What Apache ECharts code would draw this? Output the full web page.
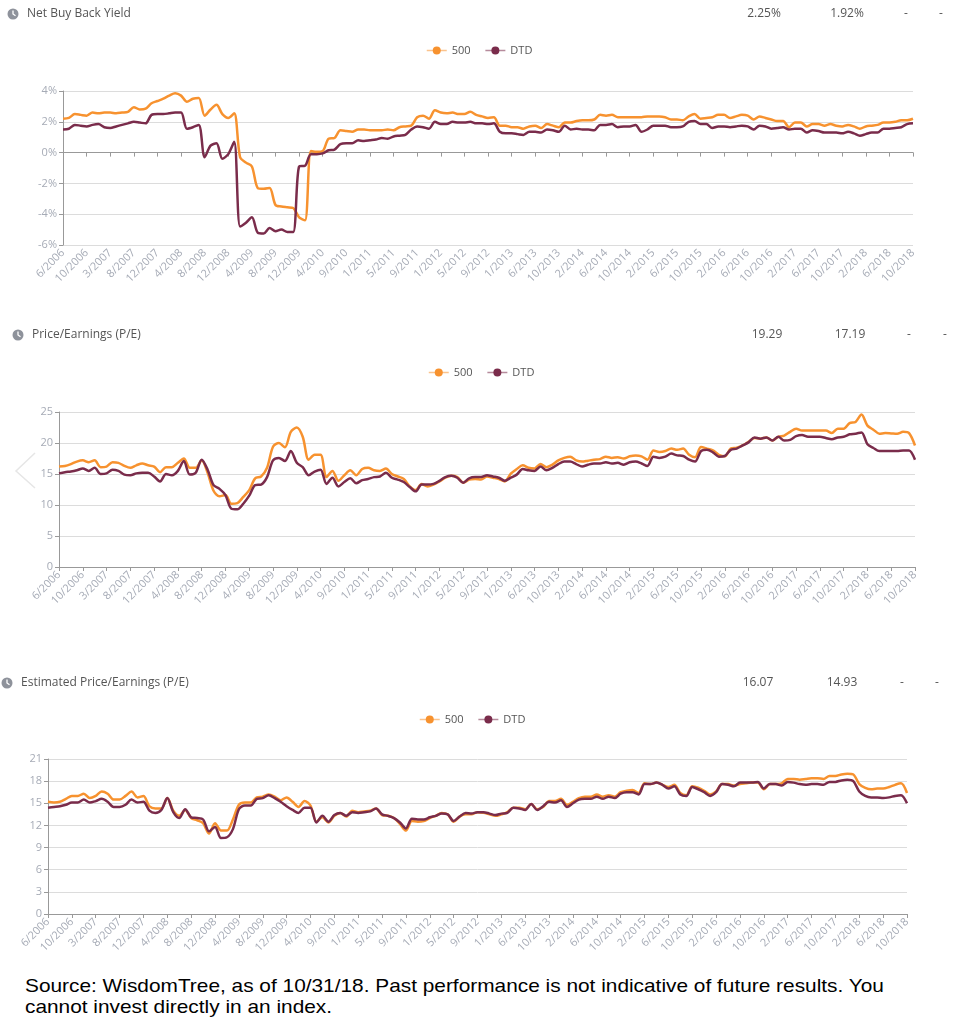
<!DOCTYPE html>
<html>
<head>
<meta charset="utf-8">
<title>Net Buy Back Yield / P/E</title>
<script src="https://cdn.jsdelivr.net/npm/echarts@6.0.0/dist/echarts.min.js"></script>
<style>
  html, body { margin: 0; padding: 0; background: #fff; }
  #main { position: absolute; left: 0; top: 0; width: 955px; height: 960px; }
  #source {
    position: absolute; left: 25px; top: 975px; width: 860px; white-space: nowrap;
    font-family: Arial, 'Liberation Sans', sans-serif; font-size: 19px; line-height: 21px; color: #000;
    transform: scaleX(1.097); transform-origin: 0 0;
  }
</style>
</head>
<body>
<div id="main"></div>
<div id="source">Source: WisdomTree, as of 10/31/18. Past performance is not indicative of future results. You<br>cannot invest directly in an index.</div>
<script>
// x axis tick labels (one per tick)
var tickLabels = ['6/2006','10/2006','3/2007','8/2007','12/2007','4/2008','8/2008','12/2008','4/2009','8/2009',
  '12/2009','4/2010','9/2010','1/2011','5/2011','9/2011','1/2012','5/2012','9/2012','1/2013',
  '6/2013','10/2013','2/2014','6/2014','10/2014','2/2015','6/2015','10/2015','2/2016','6/2016',
  '10/2016','2/2017','6/2017','10/2017','2/2018','6/2018','10/2018'];

// 4 readings between two ticks
var STEP = 4;

// Net Buy Back Yield (%)
var buyback500 = [
  2.2,2.25,2.5,2.45, 2.4,2.6,2.55,2.6, 2.6,2.55,2.6,2.65, 2.95,2.8,2.85,3.2, 3.35,3.5,3.7,3.85,
  3.7,3.3,3.5,3.55, 2.4,2.8,3.1,2.5, 2.25,2.55,-0.3,-0.65, -0.9,-2.3,-2.35,-2.3, -3.4,-3.5,-3.55,-3.6,
  -4.2,-4.4,0.1,0.05, 0.1,0.9,0.95,1.45, 1.4,1.35,1.5,1.5, 1.45,1.45,1.45,1.5, 1.45,1.65,1.7,1.75,
  2.3,2.4,2.2,2.75, 2.6,2.55,2.6,2.5, 2.5,2.65,2.45,2.35, 2.25,2.3,1.75,1.75, 1.65,1.65,1.55,1.7,
  1.75,1.6,1.85,1.75, 1.65,1.95,1.95,2.05, 2.1,2.1,2.15,2.45, 2.4,2.45,2.3,2.3, 2.3,2.3,2.3,2.35,
  2.35,2.35,2.3,2.15, 2.15,2.1,2.35,2.5, 2.2,2.25,2.3,2.45, 2.45,2.25,2.35,2.45, 2.4,2.15,2.35,2.25,
  2.15,2.05,2.05,1.65, 1.95,1.95,1.7,1.85, 1.85,1.75,1.85,1.75, 1.7,1.8,1.7,1.55, 1.7,1.75,1.8,1.95,
  1.95,2.0,2.1,2.1, 2.2
];
var buybackDTD = [
  1.5,1.55,1.8,1.75, 1.7,1.8,1.85,1.65, 1.6,1.7,1.8,1.9, 2.0,1.95,1.9,2.45, 2.5,2.5,2.55,2.6,
  2.6,1.55,1.65,1.8, -0.3,0.45,0.6,-0.4, -0.1,0.7,-4.8,-4.55, -4.2,-5.2,-5.25,-4.9, -5.1,-5.0,-5.15,-5.15,
  -0.9,-0.85,-0.1,-0.1, -0.05,0.15,0.2,0.55, 0.6,0.6,0.8,0.75, 0.8,0.85,0.95,0.9, 1.05,1.1,1.15,1.5,
  1.7,1.65,1.55,2.0, 1.85,1.85,2.0,1.95, 1.95,2.0,1.9,1.9, 1.85,1.9,1.35,1.25, 1.25,1.2,1.15,1.35,
  1.35,1.3,1.5,1.45, 1.35,1.75,1.5,1.55, 1.5,1.5,1.45,1.8, 1.8,1.85,1.65,1.7, 1.7,1.8,1.35,1.5,
  1.75,1.75,1.75,1.65, 1.65,1.7,2.0,2.05, 1.85,1.85,1.6,1.7, 1.7,1.65,1.7,1.75, 1.7,1.5,1.75,1.7,
  1.55,1.6,1.65,1.5, 1.55,1.55,1.3,1.45, 1.4,1.3,1.3,1.3, 1.25,1.35,1.25,1.1, 1.2,1.3,1.3,1.55,
  1.55,1.6,1.65,1.85, 1.9
];

// Price/Earnings
var pe500 = [
  16.2,16.3,16.6,17.0, 17.2,16.9,17.2,16.1, 16.2,16.9,16.8,16.3, 16.0,16.4,16.7,16.4, 16.2,15.3,16.1,16.1,
  16.8,17.5,16.0,16.0, 17.2,15.2,12.3,11.4, 11.6,10.2,10.3,11.3, 12.4,14.3,14.6,16.0, 19.4,20.0,19.3,21.8,
  22.5,21.0,17.3,18.1, 18.1,14.5,15.5,13.9, 14.8,15.6,14.8,15.8, 16.0,15.6,15.5,15.9, 15.0,14.6,14.2,13.0,
  12.4,13.4,13.0,13.3, 13.8,14.4,14.7,14.5, 13.6,14.1,14.2,14.1, 14.6,14.4,14.2,13.8, 15.05,15.8,16.4,16.0,
  15.9,16.6,16.1,16.5, 17.2,17.6,17.8,17.2, 17.0,17.15,17.3,17.4, 17.8,17.6,17.7,17.5, 17.85,18.0,17.85,17.3,
  18.8,18.55,18.7,19.1, 18.9,19.1,18.1,17.7, 19.35,19.1,18.8,18.1, 17.85,19.1,19.25,19.6, 20.2,20.8,20.7,20.9,
  20.4,21.0,21.2,21.8, 22.3,22.0,22.0,22.0, 22.0,22.0,21.6,22.3, 22.3,23.2,23.4,24.6, 22.8,22.15,21.5,21.6,
  21.55,21.5,21.8,21.6, 19.6
];
var peDTD = [
  15.1,15.3,15.4,15.6, 15.9,15.5,16.0,15.0, 15.1,15.7,15.5,14.9, 14.8,15.1,15.2,15.2, 14.6,13.8,15.0,14.8,
  15.5,17.1,14.9,15.2, 17.3,15.7,13.2,12.6, 11.6,9.4,9.3,10.2, 11.5,13.2,13.3,14.5, 17.2,17.6,17.1,18.7,
  16.8,16.1,14.8,15.4, 15.7,13.4,14.4,13.0, 13.7,14.3,13.5,14.0, 14.2,14.5,14.6,15.2, 14.4,14.1,13.7,12.9,
  12.2,13.3,13.3,13.4, 13.9,14.5,14.7,14.4, 13.6,14.3,14.5,14.5, 14.8,14.6,14.4,13.9, 14.4,14.9,15.8,15.6,
  15.5,16.2,15.6,16.0, 16.6,17.0,17.0,16.6, 16.2,16.5,16.7,16.7, 16.9,16.7,16.8,16.5, 16.9,17.0,16.7,16.3,
  17.8,17.6,17.8,18.3, 18.0,17.9,17.3,17.0, 18.7,18.9,18.5,17.8, 17.9,18.9,19.1,19.6, 20.1,20.9,20.7,20.9,
  20.4,21.0,20.4,20.5, 21.1,21.3,21.0,21.0, 21.0,20.8,20.6,20.9, 21.0,21.4,21.5,21.7, 19.8,19.2,18.7,18.7,
  18.7,18.7,18.8,18.8, 17.3
];

// Estimated Price/Earnings
var estPe500 = [
  15.2,15.1,15.2,15.6, 16.0,16.0,16.3,15.7, 16.0,16.6,16.3,15.5, 15.5,16.0,16.6,15.8, 16.0,14.6,14.3,14.3,
  15.7,14.0,13.3,14.1, 13.0,12.7,12.3,10.9, 12.3,11.3,11.3,12.8, 14.8,15.1,15.1,15.8, 15.9,16.2,15.9,15.4,
  15.8,15.2,14.5,15.3, 14.7,12.5,13.1,12.4, 13.3,13.7,13.2,14.0, 13.8,13.9,14.0,14.3, 13.4,13.3,13.0,12.2,
  11.3,12.6,12.5,12.6, 13.0,13.3,13.7,13.5, 12.5,13.2,13.5,13.5, 13.8,13.7,13.5,13.3, 13.5,13.8,14.4,14.4,
  14.2,14.9,14.2,14.5, 15.3,15.3,15.6,14.8, 15.2,15.7,15.9,15.9, 16.2,15.9,16.1,15.9, 16.5,16.7,16.8,16.4,
  17.7,17.6,17.8,17.5, 17.2,17.5,16.4,16.1, 17.3,17.1,16.7,16.2, 16.6,17.6,17.6,17.4, 17.6,17.7,17.8,17.8,
  16.9,17.6,17.6,17.7, 18.3,18.3,18.2,18.3, 18.4,18.4,18.3,18.7, 18.7,18.9,19.0,18.9, 17.6,17.1,16.9,17.0,
  17.0,17.2,17.5,17.7, 16.4
];
var estPeDTD = [
  14.4,14.5,14.6,14.8, 15.1,15.1,15.5,15.1, 15.3,15.6,15.2,14.5, 14.5,14.8,15.5,15.1, 15.2,14.0,13.7,14.1,
  15.7,13.8,13.0,14.2, 13.1,13.0,12.8,11.2, 11.8,10.3,10.4,11.5, 14.2,14.7,14.7,15.6, 15.7,16.1,15.7,15.2,
  14.6,14.1,13.7,14.4, 14.4,12.4,13.3,12.5, 13.4,13.7,13.3,13.8, 13.7,13.8,13.9,14.3, 13.5,13.3,13.0,12.4,
  11.6,12.9,12.8,12.8, 13.1,13.3,13.6,13.5, 12.6,13.2,13.7,13.6, 13.8,13.8,13.6,13.4, 13.6,13.7,14.4,14.3,
  14.1,14.9,14.1,14.6, 15.2,15.1,15.4,14.5, 15.0,15.5,15.6,15.6, 15.9,15.6,15.9,15.7, 16.3,16.5,16.5,16.2,
  17.6,17.6,17.8,17.5, 17.0,17.3,16.2,16.0, 17.2,16.9,16.5,16.0, 16.5,17.6,17.5,17.3, 17.8,17.8,17.8,17.9,
  17.0,17.6,17.6,17.4, 17.9,17.8,17.6,17.5, 17.6,17.6,17.5,17.9, 17.9,18.1,18.2,18.0, 16.6,16.0,15.8,15.8,
  15.7,15.8,16.0,16.1, 15.0
];

// header texts
var headerTitles = ['Net Buy Back Yield', 'Price/Earnings (P/E)', 'Estimated Price/Earnings (P/E)'];
var headerValues = [
  ['2.25%', '1.92%', '-', '-'],
  ['19.29', '17.19', '-', '-'],
  ['16.07', '14.93', '-', '-']
];

var ORANGE = '#f7922f';
var PURPLE = '#7a2c4b';
var LABEL = '#a6abb6';
var FONT = "'Open Sans', 'Noto Sans', sans-serif";

function toPoints(values) {
  return values.map(function (v, i) { return [i / STEP, v]; });
}

// header rows: [y, iconX, titleX, value centers]
var headerPos = [
  [14, 13, 27, [764, 847, 906, 941]],
  [335, 18, 32, [767, 850, 909, 945]],
  [683, 7, 21, [758, 842, 902, 937]]
];

var graphics = [];
headerPos.forEach(function (h, k) {
  var y = h[0], ix = h[1];
  graphics.push({ type: 'circle', shape: { cx: ix, cy: y, r: 5.5 }, style: { fill: '#8e929b' } });
  graphics.push({ type: 'polyline', shape: { points: [[ix, y - 3.5], [ix, y], [ix + 2.5, y + 1.8]] },
    style: { stroke: '#fff', lineWidth: 1.3, fill: null } });
  graphics.push({ type: 'text', x: h[2], y: y,
    style: { text: headerTitles[k], font: '12px ' + FONT, fill: '#555', textVerticalAlign: 'middle' } });
  h[3].forEach(function (cx, j) {
    graphics.push({ type: 'text', x: cx, y: y,
      style: { text: headerValues[k][j], font: '12px ' + FONT, fill: '#555', textAlign: 'center', textVerticalAlign: 'middle' } });
  });
});
// faint carousel arrow at the left of the 2nd chart
graphics.push({ type: 'polyline', shape: { points: [[35, 453], [16, 471], [35, 488]] },
  style: { stroke: '#e6e6e6', lineWidth: 1.5, fill: null } });

function xLabelAxis(grid, extra) {
  var ax = {
    type: 'value', gridIndex: grid, min: 0, max: tickLabels.length - 1, interval: 1,
    axisLine: { onZero: false, lineStyle: { color: '#999' } },
    axisTick: { length: 4, lineStyle: { color: '#999' } },
    splitLine: { show: false },
    axisLabel: {
      rotate: 45, margin: 6, color: LABEL, fontSize: 11, fontFamily: FONT,
      formatter: function (v) { return tickLabels[v] || ''; }
    }
  };
  return Object.assign(ax, extra || {});
}

function yAxis(grid, min, max, interval, fmt) {
  return {
    type: 'value', gridIndex: grid, min: min, max: max, interval: interval,
    axisLine: { show: true, lineStyle: { color: '#999' } },
    axisTick: { show: true, length: 4, lineStyle: { color: '#999' } },
    splitLine: { lineStyle: { color: '#dcdcdc' } },
    axisLabel: { color: LABEL, fontSize: 11, fontFamily: FONT, margin: 6, formatter: fmt }
  };
}

function line(name, color, data, xi, yi) {
  return {
    name: name, type: 'line', xAxisIndex: xi, yAxisIndex: yi,
    data: toPoints(data), smooth: 0.3, showSymbol: false, symbol: 'circle', symbolSize: 10,
    itemStyle: { color: color }, lineStyle: { color: color, width: 2.5 }
  };
}

function legend(left, top) {
  return {
    data: ['500', 'DTD'], left: left, top: top, itemWidth: 20, itemHeight: 10, itemGap: 14,
    selectedMode: false, lineStyle: { width: 1.5, opacity: 0.55 },
    textStyle: { color: '#555', fontSize: 11, fontFamily: FONT }
  };
}

var chart = echarts.init(document.getElementById('main'));
chart.setOption({
  animation: false,
  graphic: graphics,
  legend: [legend(421, 40), legend(423, 362), legend(414, 709)],
  grid: [
    { left: 63, top: 91, width: 850, height: 154 },
    { left: 59, top: 412, width: 856, height: 155 },
    { left: 48, top: 759, width: 859, height: 155 }
  ],
  xAxis: [
    // zero line of the first chart, with ticks
    xLabelAxis(0, { axisLine: { onZero: true, lineStyle: { color: '#999' } }, axisLabel: { show: false } }),
    // its labels stay at the bottom
    xLabelAxis(0, { position: 'bottom', axisLine: { show: false, onZero: false }, axisTick: { show: false } }),
    xLabelAxis(1),
    xLabelAxis(2)
  ],
  yAxis: [
    yAxis(0, -6, 4, 2, '{value}%'),
    yAxis(1, 0, 25, 5),
    yAxis(2, 0, 21, 3)
  ],
  series: [
    line('500', ORANGE, buyback500, 0, 0),
    line('DTD', PURPLE, buybackDTD, 0, 0),
    line('500', ORANGE, pe500, 2, 1),
    line('DTD', PURPLE, peDTD, 2, 1),
    line('500', ORANGE, estPe500, 3, 2),
    line('DTD', PURPLE, estPeDTD, 3, 2)
  ]
});
</script>
</body>
</html>
